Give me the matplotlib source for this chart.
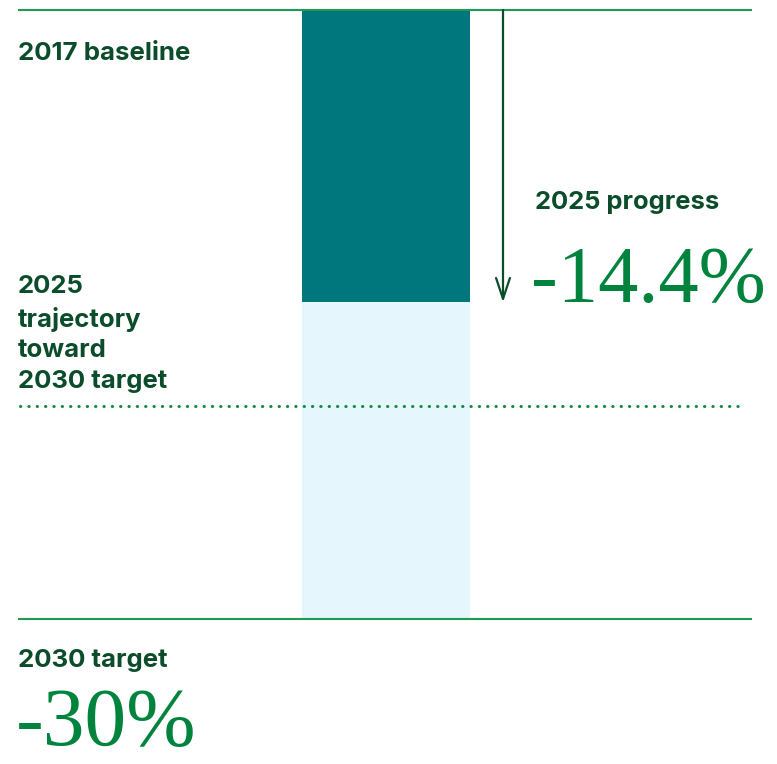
import matplotlib.pyplot as plt

# data (percent change vs 2017 baseline)
baseline = 0.0
progress_2025 = -14.4
trajectory_2025 = -19.5
target_2030 = -30.0

labels = {
    "baseline": "2017 baseline",
    "trajectory": "2025\ntrajectory\ntoward\n2030 target",
    "progress": "2025 progress",
    "target": "2030 target",
}
progress_text = "-14.4%"
target_text = "-30%"

# colours
dark_green = "#0b4d2b"
big_green = "#00843d"
rule_green = "#1f9a56"
teal = "#00767d"
light_blue = "#e5f6fd"

W, H = 777, 764
fig = plt.figure(figsize=(W / 100, H / 100), dpi=100)
ax = fig.add_axes([0, 0, 1, 1])
# 0% sits at pixel row 10, -30% at row 619
top_px, bot_px = 10, 619
scale = (target_2030 - baseline) / (bot_px - top_px)
ax.set_xlim(0, W)
ax.set_ylim(baseline + (H - top_px) * scale, baseline - top_px * scale)
ax.axis("off")

# bar: achieved part and remaining part
bx, bw = 386, 168
ax.bar(bx, progress_2025 - baseline, bottom=baseline, width=bw, color=teal, zorder=1)
ax.bar(bx, target_2030 - progress_2025, bottom=progress_2025, width=bw,
       color=light_blue, zorder=1)

# baseline and target rules
ax.plot([18, 752], [baseline, baseline], color=rule_green, lw=1.5, zorder=3,
        solid_capstyle="butt")
ax.plot([18, 752], [target_2030, target_2030], color=rule_green, lw=1.5, zorder=3,
        solid_capstyle="butt")

# trajectory dotted line
ax.plot([20, 742], [trajectory_2025, trajectory_2025], color="#138a48", lw=2.2,
        linestyle=(0, (0.1, 2.63)), dash_capstyle="round", zorder=3)

# progress arrow
ax.annotate("", xy=(503, progress_2025), xytext=(503, baseline),
            arrowprops=dict(arrowstyle="->,head_length=1.5,head_width=0.5",
                            color=dark_green, lw=1.6, shrinkA=0, shrinkB=0))


def fy(p):
    return 1 - p / H


tf = fig.transFigure
sans = ["Inter", "DejaVu Sans"]
ax.text(18 / W, fy(54), labels["baseline"], transform=tf, family=sans,
        weight="bold", fontsize=18.6, color=dark_green, va="center", ha="left")
ax.text(18 / W, fy(388), labels["trajectory"], transform=tf, family=sans,
        weight="bold", fontsize=18.5, color=dark_green, va="baseline", ha="left",
        linespacing=1.42)
ax.text(535 / W, fy(203), labels["progress"], transform=tf, family=sans,
        weight="bold", fontsize=18.4, color=dark_green, va="center", ha="left")
ax.text(18 / W, fy(661), labels["target"], transform=tf, family=sans,
        weight="bold", fontsize=18.6, color=dark_green, va="center", ha="left")

serif = ["Liberation Serif", "DejaVu Serif"]
ax.text(531 / W, fy(302), progress_text, transform=tf, family=serif,
        fontsize=58, color=big_green, va="baseline", ha="left")
ax.text(16 / W, fy(763), target_text, transform=tf, family=serif,
        fontsize=60, color=big_green, va="bottom", ha="left")

fig.savefig("out.png", dpi=100)
